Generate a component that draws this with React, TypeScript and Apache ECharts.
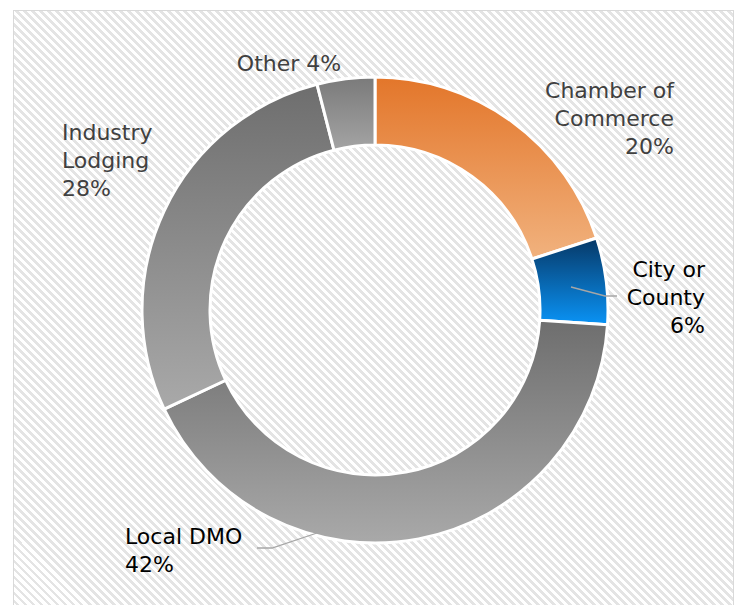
import React, { useEffect, useRef } from "react";
import * as echarts from "echarts";

const categories = ["Chamber of\nCommerce", "City or\nCounty", "Local DMO", "Industry\nLodging", "Other"];
const shares = [20, 6, 42, 28, 4];
const topColors = ["#e3762a", "#073866", "#6e6e6e", "#6e6e6e", "#7a7a7a"];
const bottomColors = ["#f1b27e", "#0a93f5", "#a9a9a9", "#a9a9a9", "#a4a4a4"];
const labelColors = ["#404040", "#000000", "#000000", "#404040", "#404040"];

// label anchor offsets (relative to pie centre), alignment and leader lines
const CX = 375;
const CY = 310;
const labelPlacement = [
  { dx: 299, dy: -192, align: "right" },
  { dx: 330, dy: -13, align: "right" },
  { dx: -250, dy: 240, align: "left" },
  { dx: -313, dy: -150, align: "left" },
  { dx: -86, dy: -247, align: "center" },
];
const leaderLines: (number[][] | null)[] = [
  null,
  [[196, -23], [230, -14], [242, -14]],
  [[-58, 223], [-103, 238], [-118, 238]],
  null,
  null,
];

export default function App() {
  const ref = useRef<HTMLDivElement>(null);
  useEffect(() => {
    if (!ref.current) return;
    const chart = echarts.init(ref.current, undefined, { renderer: "svg" });
    const data = categories.map((name, i) => ({
      name,
      value: shares[i],
      itemStyle: {
        color: new echarts.graphic.LinearGradient(0, 0, 0, 1, [
          { offset: 0, color: topColors[i] },
          { offset: 1, color: bottomColors[i] },
        ]),
      },
      label: {
        color: labelColors[i],
        formatter: i === 4 ? "{b} {d}%" : "{b}\n{d}%",
        align: labelPlacement[i].align,
      },
    }));
    const graphics = leaderLines
      .filter((l) => l !== null)
      .map((l) => ({
        type: "polyline",
        z: 100,
        silent: true,
        shape: { points: (l as number[][]).map((q) => [CX + q[0], CY + q[1]]) },
        style: { stroke: "#a6a6a6", lineWidth: 1.3, fill: "none" },
      }));
    chart.setOption({
      animation: false,
      graphic: graphics,
      series: [
        {
          type: "pie",
          center: [CX, CY],
          radius: [165, 233],
          startAngle: 90,
          clockwise: true,
          avoidLabelOverlap: false,
          itemStyle: { borderColor: "#ffffff", borderWidth: 3 },
          label: {
            show: true,
            position: "outside",
            fontFamily: "DejaVu Sans",
            fontSize: 22,
            lineHeight: 28,
          },
          labelLine: { show: false },
          labelLayout: (params: any) => {
            const p = labelPlacement[params.dataIndex];
            return {
              x: CX + p.dx,
              y: CY + p.dy,
              align: p.align,
              verticalAlign: "middle",
            };
          },
          data,
        },
      ],
    });
    return () => chart.dispose();
  }, []);
  return (
    <div style={{ position: "fixed", left: 0, top: 0, width: 742, height: 605, background: "#ffffff" }}>
      <div
        style={{
          position: "absolute",
          left: 13,
          top: 10,
          width: 719,
          height: 600,
          border: "1.5px solid #d9d9d9",
          background:
            "repeating-linear-gradient(45deg, #e4e4e4 0px, #e4e4e4 2.8px, #ffffff 2.8px, #ffffff 5.66px)",
        }}
      />
      <div ref={ref} style={{ position: "absolute", left: 0, top: 0, width: 742, height: 605 }} />
    </div>
  );
}
